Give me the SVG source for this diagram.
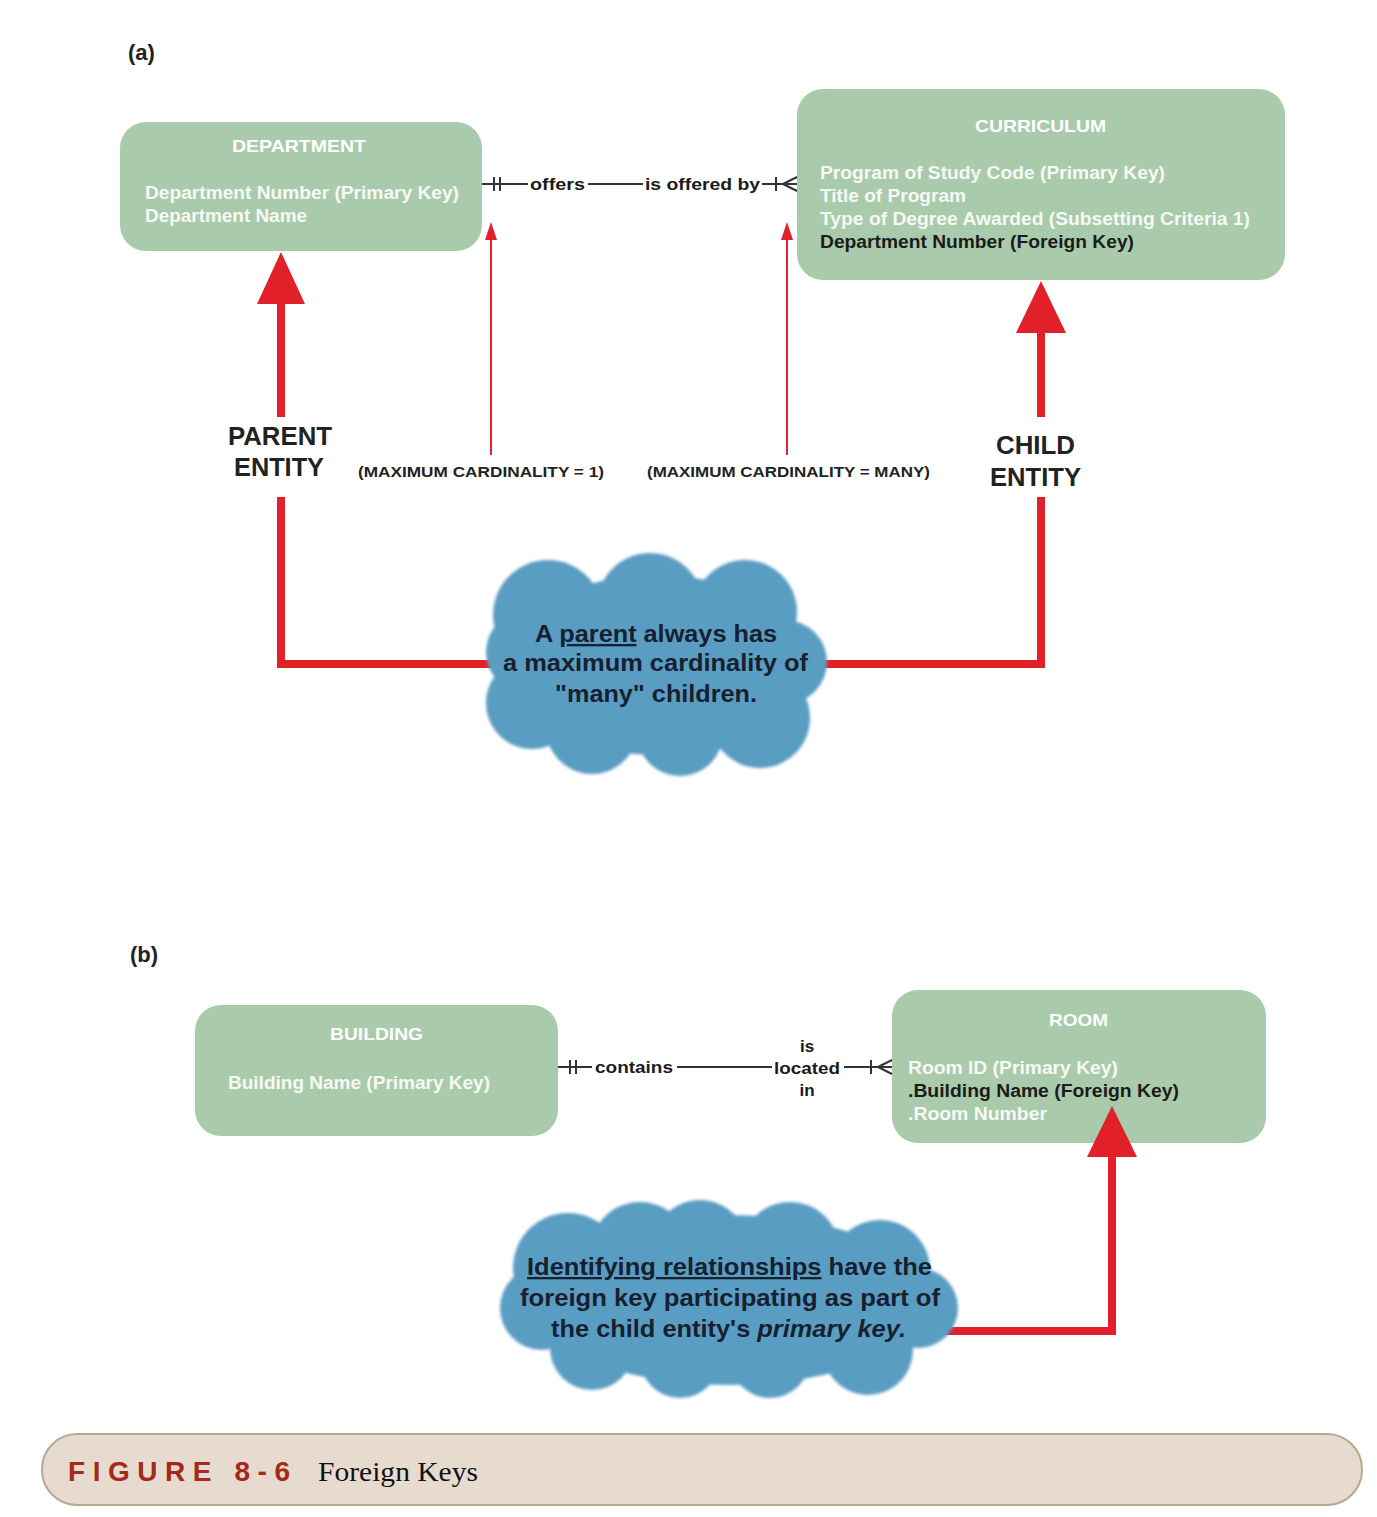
<svg xmlns="http://www.w3.org/2000/svg" width="1377" height="1517" viewBox="0 0 1377 1517">
<defs>
<style>
.box{fill:#a9cbab;}
.ttl{font-family:"Liberation Sans",Arial,sans-serif;font-weight:bold;font-size:17px;fill:#ffffff;}
.att{font-family:"Liberation Sans",Arial,sans-serif;font-weight:bold;font-size:18px;fill:#f6f9f4;}
.blk{fill:#1b1b1b;}
.rel{font-family:"Liberation Sans",Arial,sans-serif;font-weight:bold;font-size:17px;fill:#1b1b1b;}
.ln{stroke:#333333;stroke-width:2;fill:none;}
.big{font-family:"Liberation Sans",Arial,sans-serif;font-weight:bold;font-size:25px;fill:#222222;}
.card{font-family:"Liberation Sans",Arial,sans-serif;font-weight:bold;font-size:15px;fill:#222222;}
.cld{fill:#5a9dc3;}
.ctx{font-family:"Liberation Sans",Arial,sans-serif;font-weight:bold;font-size:23px;fill:#16202e;}
.thick{stroke:#e2202a;stroke-width:8;fill:none;}
.thin{stroke:#d9262e;stroke-width:2;fill:none;}
.head{fill:#e2202a;}
.lbl{font-family:"Liberation Sans",Arial,sans-serif;font-weight:bold;font-size:22px;fill:#222222;}
</style>
<filter id="soft" x="-5%" y="-5%" width="110%" height="110%"><feGaussianBlur stdDeviation="1.5"/></filter>
</defs>
<rect width="1377" height="1517" fill="#ffffff"/>

<text class="lbl" x="128" y="60">(a)</text>
<text class="lbl" x="130" y="962">(b)</text>

<g id="department">
  <rect class="box" x="120" y="122" width="362" height="129" rx="26"/>
  <text class="ttl" x="232" y="152" textLength="134" lengthAdjust="spacingAndGlyphs">DEPARTMENT</text>
  <text class="att" x="145" y="199" textLength="314" lengthAdjust="spacingAndGlyphs">Department Number (Primary Key)</text>
  <text class="att" x="145" y="222" textLength="162" lengthAdjust="spacingAndGlyphs">Department Name</text>
</g>

<g id="curriculum">
  <rect class="box" x="797" y="89" width="488" height="191" rx="26"/>
  <text class="ttl" x="975" y="132" textLength="131" lengthAdjust="spacingAndGlyphs">CURRICULUM</text>
  <text class="att" x="820" y="179" textLength="345" lengthAdjust="spacingAndGlyphs">Program of Study Code (Primary Key)</text>
  <text class="att" x="820" y="202" textLength="146" lengthAdjust="spacingAndGlyphs">Title of Program</text>
  <text class="att" x="820" y="225" textLength="430" lengthAdjust="spacingAndGlyphs">Type of Degree Awarded (Subsetting Criteria 1)</text>
  <text class="att blk" x="820" y="248" textLength="314" lengthAdjust="spacingAndGlyphs">Department Number (Foreign Key)</text>
</g>

<g id="building">
  <rect class="box" x="195" y="1005" width="363" height="131" rx="26"/>
  <text class="ttl" x="330" y="1040" textLength="93" lengthAdjust="spacingAndGlyphs">BUILDING</text>
  <text class="att" x="228" y="1089" textLength="262" lengthAdjust="spacingAndGlyphs">Building Name (Primary Key)</text>
</g>

<g id="room">
  <rect class="box" x="892" y="990" width="374" height="153" rx="26"/>
  <text class="ttl" x="1049" y="1026" textLength="59" lengthAdjust="spacingAndGlyphs">ROOM</text>
  <text class="att" x="908" y="1074" textLength="210" lengthAdjust="spacingAndGlyphs">Room ID (Primary Key)</text>
  <text class="att blk" x="908" y="1097" textLength="271" lengthAdjust="spacingAndGlyphs">.Building Name (Foreign Key)</text>
  <text class="att" x="908" y="1120" textLength="139" lengthAdjust="spacingAndGlyphs">.Room Number</text>
</g>

<g id="connectors">
  <line class="ln" x1="482" y1="184" x2="528" y2="184"/>
  <line class="ln" x1="494" y1="177" x2="494" y2="191"/>
  <line class="ln" x1="500" y1="177" x2="500" y2="191"/>
  <line class="ln" x1="588" y1="184" x2="643" y2="184"/>
  <line class="ln" x1="762" y1="184" x2="797" y2="184"/>
  <line class="ln" x1="776" y1="177" x2="776" y2="191"/>
  <line class="ln" x1="783" y1="184" x2="797" y2="177"/>
  <line class="ln" x1="783" y1="184" x2="797" y2="191"/>
  <line class="thin" x1="491" y1="455" x2="491" y2="238"/>
  <polygon class="head" points="491,222 485,240 497,240"/>
  <line class="thin" x1="787" y1="455" x2="787" y2="238"/>
  <polygon class="head" points="787,222 781,240 793,240"/>
  <line class="thick" x1="281" y1="417" x2="281" y2="300"/>
  <polygon class="head" points="281,252 257,304 305,304"/>
  <polyline class="thick" points="281,497 281,664 492,664"/>
  <line class="thick" x1="1041" y1="417" x2="1041" y2="328"/>
  <polygon class="head" points="1041,281 1016,333 1066,333"/>
  <polyline class="thick" points="1041,497 1041,664 824,664"/>
  <line class="ln" x1="558" y1="1067" x2="592" y2="1067"/>
  <line class="ln" x1="570" y1="1060" x2="570" y2="1074"/>
  <line class="ln" x1="576" y1="1060" x2="576" y2="1074"/>
  <line class="ln" x1="677" y1="1067" x2="772" y2="1067"/>
  <line class="ln" x1="844" y1="1067" x2="892" y2="1067"/>
  <line class="ln" x1="871" y1="1060" x2="871" y2="1074"/>
  <line class="ln" x1="878" y1="1067" x2="892" y2="1060"/>
  <line class="ln" x1="878" y1="1067" x2="892" y2="1074"/>
  <polygon class="head" points="1112,1106 1087,1157 1137,1157"/>
  <polyline class="thick" points="1112,1152 1112,1331 938,1331"/>
</g>

<g id="rel-labels">
  <text class="rel" x="530" y="190" textLength="55" lengthAdjust="spacingAndGlyphs">offers</text>
  <text class="rel" x="645" y="190" textLength="115" lengthAdjust="spacingAndGlyphs">is offered by</text>
  <text class="rel" x="595" y="1073" textLength="78" lengthAdjust="spacingAndGlyphs">contains</text>
  <text class="rel" x="807" y="1052" text-anchor="middle">is</text>
  <text class="rel" x="774" y="1074" textLength="66" lengthAdjust="spacingAndGlyphs">located</text>
  <text class="rel" x="807" y="1096" text-anchor="middle">in</text>
  <text class="card" x="358" y="477" textLength="246" lengthAdjust="spacingAndGlyphs">(MAXIMUM CARDINALITY = 1)</text>
  <text class="card" x="647" y="477" textLength="283" lengthAdjust="spacingAndGlyphs">(MAXIMUM CARDINALITY = MANY)</text>
  <text class="big" x="228" y="445" textLength="104" lengthAdjust="spacingAndGlyphs">PARENT</text>
  <text class="big" x="234" y="476" textLength="90" lengthAdjust="spacingAndGlyphs">ENTITY</text>
  <text class="big" x="996" y="454" textLength="79" lengthAdjust="spacingAndGlyphs">CHILD</text>
  <text class="big" x="990" y="486" textLength="91" lengthAdjust="spacingAndGlyphs">ENTITY</text>
</g>

<g id="cloud1">
  <g class="cld" filter="url(#soft)">
    <ellipse cx="656" cy="665" rx="150" ry="90"/>
    <circle cx="548" cy="615" r="55"/>
    <circle cx="650" cy="606" r="53"/>
    <circle cx="745" cy="612" r="52"/>
    <circle cx="785" cy="662" r="42"/>
    <circle cx="760" cy="718" r="50"/>
    <circle cx="680" cy="733" r="43"/>
    <circle cx="592" cy="728" r="46"/>
    <circle cx="532" cy="703" r="46"/>
    <circle cx="527" cy="652" r="41"/>
  </g>
  <text class="ctx" x="535" y="642" textLength="242" lengthAdjust="spacingAndGlyphs">A <tspan text-decoration="underline">parent</tspan> always has</text>
  <text class="ctx" x="503" y="671" textLength="305" lengthAdjust="spacingAndGlyphs">a maximum cardinality of</text>
  <text class="ctx" x="555" y="702" textLength="202" lengthAdjust="spacingAndGlyphs">"many" children.</text>
</g>

<g id="cloud2">
  <g class="cld" filter="url(#soft)">
    <ellipse cx="729" cy="1300" rx="200" ry="85"/>
    <circle cx="568" cy="1268" r="55"/>
    <circle cx="640" cy="1252" r="50"/>
    <circle cx="700" cy="1248" r="48"/>
    <circle cx="790" cy="1252" r="50"/>
    <circle cx="880" cy="1270" r="50"/>
    <circle cx="918" cy="1308" r="40"/>
    <circle cx="868" cy="1350" r="45"/>
    <circle cx="770" cy="1358" r="40"/>
    <circle cx="680" cy="1358" r="40"/>
    <circle cx="592" cy="1348" r="42"/>
    <circle cx="542" cy="1308" r="42"/>
  </g>
  <text class="ctx" x="527" y="1275" textLength="405" lengthAdjust="spacingAndGlyphs"><tspan text-decoration="underline">Identifying relationships</tspan> have the</text>
  <text class="ctx" x="520" y="1306" textLength="420" lengthAdjust="spacingAndGlyphs">foreign key participating as part of</text>
  <text class="ctx" x="551" y="1337" textLength="355" lengthAdjust="spacingAndGlyphs">the child entity's <tspan font-style="italic">primary key.</tspan></text>
</g>

<g id="caption">
  <rect x="42" y="1434" width="1320" height="71" rx="35" fill="#e7dace" stroke="#b9a78f" stroke-width="2"/>
  <text x="68" y="1481" font-family="'Liberation Sans',Arial,sans-serif" font-weight="bold" font-size="28" fill="#a3291b" textLength="222" lengthAdjust="spacing">FIGURE 8-6</text>
  <text x="318" y="1481" font-family="'Liberation Serif','Times New Roman',serif" font-size="28" fill="#111111" textLength="160" lengthAdjust="spacingAndGlyphs">Foreign Keys</text>
</g>
</svg>
